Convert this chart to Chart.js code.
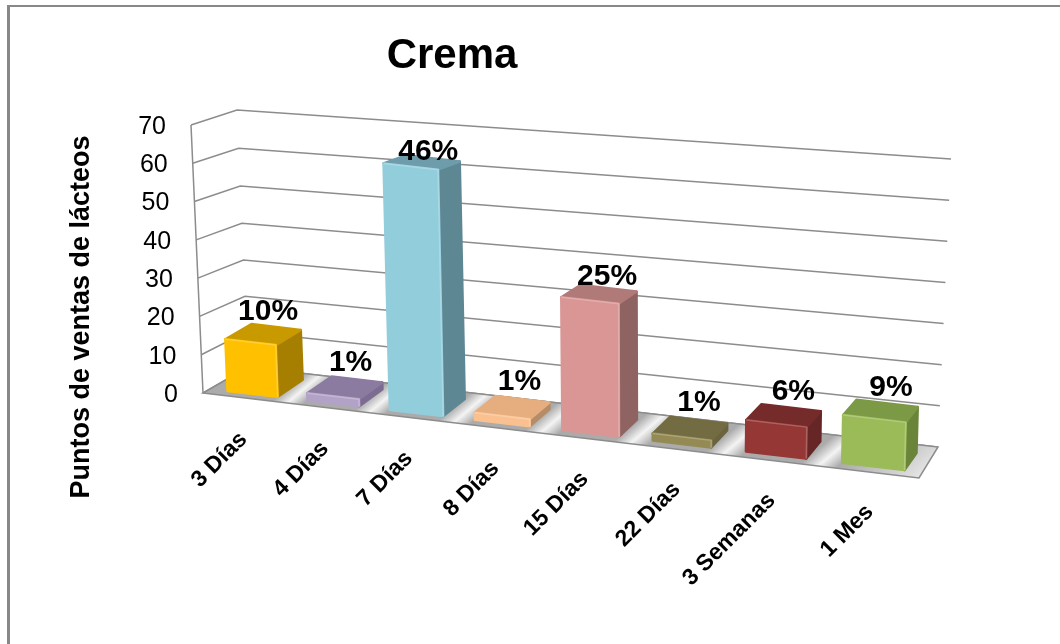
<!DOCTYPE html>
<html lang="es">
<head>
<meta charset="utf-8">
<title>Crema</title>
<script src="https://cdn.jsdelivr.net/npm/chart.js@4/dist/chart.umd.js"></script>
<style>
    html, body { margin: 0; padding: 0; background: #fff; overflow: hidden; }
    #marco { position: absolute; left: 7px; top: 5px; right: 0; bottom: 0; border-left: 3px solid #888; border-top: 2px solid #888; }
    #myChart { position: absolute; left: 0; top: 0; }
</style>
</head>
<body>
<div id="marco"></div>
<canvas id="myChart" width="1060" height="644"></canvas>
<script>
//----Datos----
const categorias = ["3 Días", "4 Días", "7 Días", "8 Días", "15 Días", "22 Días", "3 Semanas", "1 Mes"];
const puntosDeVenta = [12, 1, 60, 1, 32, 1, 7, 11];
const porcentajes = ["10%", "1%", "46%", "1%", "25%", "1%", "6%", "9%"];

//----Colores de cada cara de las barras----
const coloresFrente = ["#FFC000", "#B3A2C7", "#92CDDC", "#FAC090", "#D99694", "#948A54", "#953735", "#9BBB59"];
const coloresTecho = ["#C99900", "#8C7BA0", "#6E9CAA", "#E6AD7E", "#B07A78", "#736B42", "#742B2A", "#7C9A46"];
const coloresLado = ["#A67F00", "#7D6C92", "#5E8794", "#B58C68", "#8F6361", "#6A6340", "#662625", "#6A8439"];

//----Esquinas de paredes y piso (perspectiva 3D fija)----
const frenteIzq0 = [203, 393], frenteIzq70 = [191, 125];
const fondoIzq0 = [248, 367], fondoIzq70 = [237, 110];
const fondoDer0 = [938, 447], fondoDer70 = [951, 159];
const frenteDer0 = [919, 478];
const colorGrid = "#8C8C8C";
const bisel = 3;

const lerp = (a, b, f) => [a[0] + (b[0] - a[0]) * f, a[1] + (b[1] - a[1]) * f];

// Eje x en perspectiva: las categorias se ensanchan hacia la derecha
const xPerspectiva = (t) => (602.3 * t + 213) / (1 - 0.1167 * t);
const yBase = (x) => 391 + 0.1168 * (x - 228);

// Pasa un punto de las escalas del grafico al plano frontal de las barras
const proyectar = (chart, px, py) => {
    const area = chart.chartArea;
    const x = xPerspectiva((px - area.left) / (area.right - area.left));
    const h = (area.bottom - py) * 1.06 + (py < area.bottom ? bisel : 0);
    const inclinacion = -0.045 + 0.065 * (x - 203) / 640;
    return [x + inclinacion * h, yBase(x) - h];
};

// Desplaza un punto hacia el fondo de la barra
const alFondo = (p, h) => [p[0] + 25 - 13 * (p[0] - 278) / 627, p[1] - 17 + 0.036 * h];

const poligono = (ctx, puntos, color) => {
    ctx.beginPath();
    puntos.forEach((p, i) => i ? ctx.lineTo(p[0], p[1]) : ctx.moveTo(p[0], p[1]));
    ctx.closePath();
    ctx.fillStyle = color;
    ctx.strokeStyle = color;
    ctx.lineWidth = 2.5;
    ctx.lineJoin = "round";
    ctx.fill();
    ctx.stroke();
};

const dibujarPiso = (ctx) => {
    const nx = 0.648, ny = 0.762;
    const inicio = [xPerspectiva(0), yBase(xPerspectiva(0))];
    const fin = [xPerspectiva(1), yBase(xPerspectiva(1))];
    const largo = (fin[0] - inicio[0]) * nx + (fin[1] - inicio[1]) * ny;
    const posicion = (t) => {
        const x = xPerspectiva(t);
        return Math.min(1, Math.max(0, ((x - inicio[0]) * nx + (yBase(x) - inicio[1]) * ny) / largo));
    };
    const gris = "#ABABAB", blanco = "#F4F4F4";
    const degradado = ctx.createLinearGradient(inicio[0], inicio[1], inicio[0] + nx * largo, inicio[1] + ny * largo);
    degradado.addColorStop(0, gris);
    for (let i = 1; i < categorias.length; i++) {
        degradado.addColorStop(posicion((i - 0.5) / 8 + 0.0394), gris);
        degradado.addColorStop(posicion(i / 8), blanco);
        degradado.addColorStop(posicion((i + 0.5) / 8 - 0.0394), gris);
    }
    degradado.addColorStop(posicion(15.5 / 16), "#D0D0D0");
    degradado.addColorStop(1, "#E4E4E4");

    ctx.beginPath();
    [frenteIzq0, frenteDer0, fondoDer0, fondoIzq0].forEach((p, i) => i ? ctx.lineTo(p[0], p[1]) : ctx.moveTo(p[0], p[1]));
    ctx.closePath();
    ctx.fillStyle = degradado;
    ctx.fill();
    ctx.strokeStyle = colorGrid;
    ctx.lineWidth = 1.5;
    ctx.lineJoin = "miter";
    ctx.stroke();
};

const plugin3D = {
    id: "plugin3D",
    afterLayout(chart) {
        // Titulo centrado sobre x = 452
        chart.titleBlock.left = 0;
        chart.titleBlock.right = 904;
    },
    beforeDatasetsDraw(chart) {
        const ctx = chart.ctx, y = chart.scales.y, area = chart.chartArea;
        ctx.save();
        // Lineas de la cuadricula desde los ticks de la escala
        ctx.strokeStyle = colorGrid;
        ctx.lineWidth = 1.5;
        y.ticks.forEach((tick) => {
            const f = (area.bottom - y.getPixelForValue(tick.value)) / (area.bottom - area.top);
            const a = lerp(frenteIzq0, frenteIzq70, f);
            const b = lerp(fondoIzq0, fondoIzq70, f * (1 - 0.05 * (1 - f)));
            const c = lerp(fondoDer0, fondoDer70, f);
            ctx.beginPath();
            ctx.moveTo(a[0], a[1]);
            ctx.lineTo(b[0], b[1]);
            ctx.lineTo(c[0], c[1]);
            ctx.stroke();
        });
        ctx.beginPath();
        ctx.moveTo(frenteIzq70[0], frenteIzq70[1]);
        ctx.lineTo(frenteIzq0[0], frenteIzq0[1]);
        ctx.stroke();
        dibujarPiso(ctx);
        ctx.restore();
    },
    // Las barras planas no se pintan: se pintan en 3D desde sus elementos
    beforeDatasetDraw() {
        return false;
    },
    afterDatasetsDraw(chart) {
        const ctx = chart.ctx, y = chart.scales.y, area = chart.chartArea;
        const barras = chart.getDatasetMeta(0).data;
        ctx.save();

        barras.forEach((barra, i) => {
            const izq = barra.x - barra.width / 2, der = barra.x + barra.width / 2;
            const h = (barra.base - barra.y) * 1.06 + bisel;
            const abajoIzq = proyectar(chart, izq, barra.base), abajoDer = proyectar(chart, der, barra.base);
            const arribaIzq = proyectar(chart, izq, barra.y), arribaDer = proyectar(chart, der, barra.y);
            const fondoArribaIzq = alFondo(arribaIzq, h), fondoArribaDer = alFondo(arribaDer, h);
            const fondoAbajoDer = alFondo(abajoDer, 0);

            poligono(ctx, [abajoDer, arribaDer, fondoArribaDer, fondoAbajoDer], coloresLado[i]);
            poligono(ctx, [arribaIzq, arribaDer, fondoArribaDer, fondoArribaIzq], coloresTecho[i]);
            poligono(ctx, [arribaIzq, arribaDer, abajoDer, abajoIzq], coloresFrente[i]);

            // Brillo del bisel
            ctx.strokeStyle = "rgba(255,255,255,0.22)";
            ctx.lineWidth = 1.5;
            ctx.beginPath();
            ctx.moveTo(arribaIzq[0], arribaIzq[1]);
            ctx.lineTo(arribaDer[0], arribaDer[1]);
            ctx.lineTo(abajoDer[0], abajoDer[1]);
            ctx.stroke();

            // Porcentaje sobre el techo de la barra
            ctx.fillStyle = "#000";
            ctx.font = "bold 30px 'Liberation Sans'";
            ctx.textAlign = "center";
            ctx.textBaseline = "middle";
            const cx = (arribaIzq[0] + fondoArribaDer[0]) / 2;
            const cy = (arribaIzq[1] + fondoArribaDer[1]) / 2;
            ctx.fillText(porcentajes[i], cx + 5 + i * 0.8, cy - 26 + 0.06 * h);

            // Etiqueta de categoria girada 45 grados
            const centro = proyectar(chart, barra.x, barra.base);
            ctx.save();
            ctx.translate(centro[0] - 9 + i * 0.8, centro[1] + 42);
            ctx.rotate(-Math.PI / 4);
            ctx.font = "bold 23px 'Liberation Sans'";
            ctx.textAlign = "right";
            ctx.fillText(categorias[i], 0, 0);
            ctx.restore();
        });

        // Etiquetas del eje y, siguen la inclinacion del eje
        ctx.fillStyle = "#000";
        ctx.font = "25px 'Liberation Sans'";
        ctx.textAlign = "right";
        ctx.textBaseline = "middle";
        y.ticks.forEach((tick) => {
            const f = (area.bottom - y.getPixelForValue(tick.value)) / (area.bottom - area.top);
            const p = lerp(frenteIzq0, frenteIzq70, f);
            ctx.fillText(tick.label, p[0] - 25, p[1] + 2);
        });

        // Titulo del eje y
        ctx.translate(82, 317);
        ctx.rotate(-Math.PI / 2);
        ctx.font = "bold 27px 'Liberation Sans'";
        ctx.textAlign = "center";
        ctx.fillText("Puntos de ventas de lácteos", 0, 0);
        ctx.restore();
    }
};

Chart.defaults.font.family = "'Liberation Sans'";

const graficoCrema = new Chart(document.querySelector("#myChart"), {
    type: "bar",
    data: {
        labels: categorias,
        datasets: [{
            label: "Puntos de ventas de lácteos",
            data: puntosDeVenta,
            backgroundColor: coloresFrente,
            categoryPercentage: 1,
            barPercentage: 0.63
        }]
    },
    options: {
        responsive: false,
        animation: false,
        events: [],
        layout: { padding: { left: 213, right: 137, top: 0, bottom: 251 } },
        scales: {
            x: { display: false },
            y: { display: false, min: 0, max: 70, ticks: { stepSize: 10 } }
        },
        plugins: {
            legend: { display: false },
            tooltip: { enabled: false },
            title: {
                display: true,
                text: "Crema",
                color: "#000",
                font: { size: 42, weight: "bold" },
                padding: { top: 31, bottom: 43.6 }
            }
        }
    },
    plugins: [plugin3D]
});
</script>
</body>
</html>
